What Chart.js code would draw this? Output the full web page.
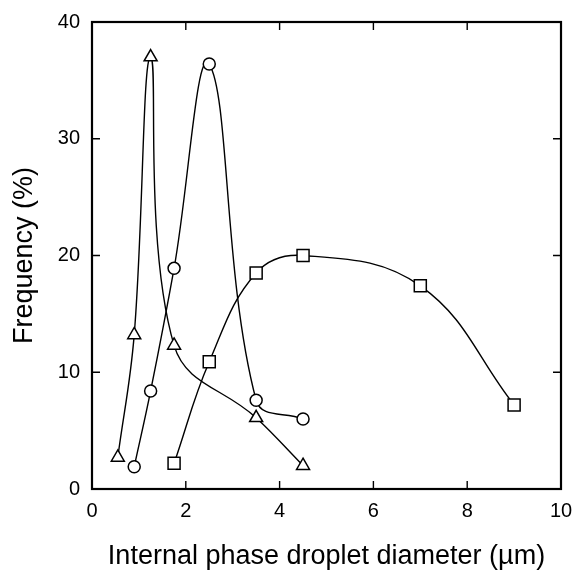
<!DOCTYPE html>
<html>
<head>
<meta charset="utf-8">
<script src="https://cdn.jsdelivr.net/npm/chart.js@4.4.0/dist/chart.umd.min.js"></script>
<style>
  html, body { margin: 0; padding: 0; background: #fff; }
  #wrap { width: 574px; height: 573px; }
</style>
</head>
<body>
<div id="wrap"><canvas id="c" width="574" height="573"></canvas></div>
<script>
// droplet diameter (um) and frequency (%)
const triX = [0.55, 0.9, 1.25, 1.75, 3.5, 4.5];
const triY = [2.7, 13.2, 37.0, 12.3, 6.1, 2.0];
const circX = [0.9, 1.25, 1.75, 2.5, 3.5, 4.5];
const circY = [1.9, 8.4, 18.9, 36.4, 7.6, 6.0];
const sqX = [1.75, 2.5, 3.5, 4.5, 7.0, 9.0];
const sqY = [2.2, 10.9, 18.5, 20.0, 17.4, 7.2];
const xTicks = [0, 2, 4, 6, 8, 10];
const yTicks = [0, 10, 20, 30, 40];

const FONT = "Liberation Sans, Arial, Helvetica, sans-serif";

const pts = (xs, ys) => xs.map((x, i) => ({ x: x, y: ys[i] }));

const series = (data, style, r) => ({
  data: data,
  showLine: true,
  borderColor: "#000",
  borderWidth: 1.4,
  tension: 0.4,
  pointStyle: style,
  pointRadius: r,
  pointHoverRadius: r,
  pointBackgroundColor: "#fff",
  pointBorderColor: "#000",
  pointBorderWidth: 1.5,
});

// frame + inward ticks on all four sides
const frame = {
  id: "frame",
  afterDatasetsDraw(chart) {
    const { ctx, chartArea: a, scales } = chart;
    ctx.save();
    ctx.strokeStyle = "#000";
    ctx.lineWidth = 1.4;
    const len = 8;
    xTicks.forEach((t) => {
      const px = scales.x.getPixelForValue(t);
      ctx.beginPath();
      ctx.moveTo(px, a.bottom);
      ctx.lineTo(px, a.bottom - len);
      ctx.moveTo(px, a.top);
      ctx.lineTo(px, a.top + len);
      ctx.stroke();
    });
    yTicks.forEach((t) => {
      const py = scales.y.getPixelForValue(t);
      ctx.beginPath();
      ctx.moveTo(a.left, py);
      ctx.lineTo(a.left + len, py);
      ctx.moveTo(a.right, py);
      ctx.lineTo(a.right - len, py);
      ctx.stroke();
    });
    ctx.lineWidth = 2.2;
    ctx.strokeRect(a.left, a.top, a.right - a.left, a.bottom - a.top);
    ctx.restore();
  },
};

new Chart(document.getElementById("c"), {
  type: "scatter",
  data: {
    datasets: [
      series(pts(triX, triY), "triangle", 7.5),
      series(pts(circX, circY), "circle", 6),
      series(pts(sqX, sqY), "rect", 8.5),
    ],
  },
  options: {
    responsive: false,
    animation: false,
    layout: { padding: { top: 22, right: 13, left: 0, bottom: 0 } },
    plugins: { legend: { display: false }, tooltip: { enabled: false } },
    scales: {
      x: {
        type: "linear",
        min: 0,
        max: 10,
        afterBuildTicks: (s) => { s.ticks = xTicks.map((v) => ({ value: v })); },
        afterFit: (s) => { s.height = 84; s.paddingRight = 0; s.paddingLeft = 0; },
        grid: { display: false, drawTicks: false },
        border: { display: false },
        ticks: {
          color: "#000",
          padding: 10,
          font: { family: FONT, size: 20 },
        },
        title: {
          display: true,
          text: "Internal phase droplet diameter (µm)",
          color: "#000",
          padding: { top: 0, bottom: 0 },
          font: { family: FONT, size: 27 },
        },
      },
      y: {
        type: "linear",
        min: 0,
        max: 40,
        afterBuildTicks: (s) => { s.ticks = yTicks.map((v) => ({ value: v })); },
        afterFit: (s) => { s.width = 92; s.paddingTop = 0; s.paddingBottom = 0; },
        grid: { display: false, drawTicks: false },
        border: { display: false },
        ticks: {
          color: "#000",
          padding: 12,
          font: { family: FONT, size: 20 },
        },
        title: {
          display: true,
          text: "Frequency (%)",
          color: "#000",
          padding: { top: 8, bottom: 0 },
          font: { family: FONT, size: 27 },
        },
      },
    },
  },
  plugins: [frame],
});
</script>
</body>
</html>
